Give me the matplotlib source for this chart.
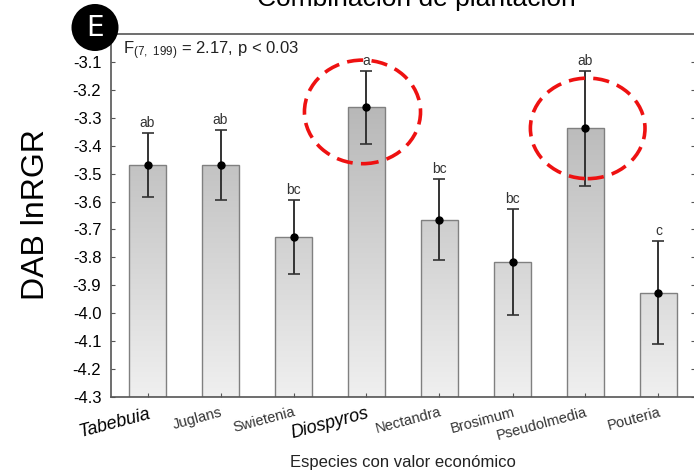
import numpy as np
import matplotlib
matplotlib.use('Agg')
import matplotlib.pyplot as plt
from matplotlib.patches import Ellipse, Circle

plt.rcParams['font.family'] = ['Liberation Sans', 'DejaVu Sans']
plt.rcParams['mathtext.default'] = 'regular'

# datos
especies = ['Tabebuia', 'Juglans', 'Swietenia', 'Diospyros', 'Nectandra',
            'Brosimum', 'Pseudolmedia', 'Pouteria']
medias = [-3.470, -3.468, -3.727, -3.263, -3.665, -3.815, -3.338, -3.926]
errores = [0.115, 0.125, 0.133, 0.132, 0.145, 0.190, 0.205, 0.185]
letras = ['ab', 'ab', 'bc', 'a', 'bc', 'bc', 'ab', 'c']
destacadas = ['Diospyros', 'Pseudolmedia']
cursivas = ['Tabebuia', 'Diospyros']

ymin, ymax = -4.3, -3.0

fig = plt.figure(figsize=(6.94, 4.73), dpi=100)
ax = fig.add_axes([111 / 694, 76 / 473, 584 / 694, 363 / 473])

x = np.arange(len(especies))
barras = ax.bar(x, [m - ymin for m in medias], bottom=ymin, width=0.5,
                color='none', edgecolor='#808080', linewidth=1.0, zorder=2)

# degradado gris (claro abajo, oscuro arriba)
g = np.linspace(0.94, 0.665, 256).reshape(-1, 1)
grad = np.dstack([g, g, g])
for b in barras:
    img = ax.imshow(grad, extent=[-0.5, 7.5, ymin, ymax], origin='lower',
                    aspect='auto', zorder=1, interpolation='bilinear')
    img.set_clip_path(b)

ax.errorbar(x, medias, yerr=errores, fmt='o', color='black', ms=5,
            ecolor='#333333', elinewidth=1.4, capsize=4, capthick=1.2, zorder=3)

for xi, m, e, l in zip(x, medias, errores, letras):
    ax.text(xi, m + e + 0.01, l, ha='center', va='bottom', fontsize=10,
            color='#333333', zorder=4)

# circulos rojos
centros = {'Diospyros': (-0.055, -0.016, 1.59, 0.371),
           'Pseudolmedia': (0.03, 0.0, 1.57, 0.36)}
for nombre in destacadas:
    i = especies.index(nombre)
    dx, dy, w, h = centros[nombre]
    ax.add_patch(Ellipse((i + dx, medias[i] + dy), w, h, fill=False,
                         edgecolor='#ee1111', linestyle=(0, (4.5, 2.3)),
                         linewidth=2.6, zorder=5, clip_on=False))

ax.set_xlim(-0.5, 7.5)
ax.set_ylim(ymin, ymax)
ticks = np.round(np.arange(-4.3, -3.05, 0.1), 1)
ax.set_yticks(ticks)
ax.set_yticklabels(['%.1f' % v for v in ticks], fontsize=12)
ax.set_xticks(x)
ax.set_xticklabels(especies)
for lab in ax.get_xticklabels():
    lab.set_rotation(15)
    lab.set_ha('right')
    lab.set_rotation_mode('anchor')
    if lab.get_text() in cursivas:
        lab.set_fontstyle('italic')
        lab.set_fontsize(13)
        lab.set_color('black')
    else:
        lab.set_fontsize(10.5)
        lab.set_color('#333333')
ax.tick_params(axis='both', direction='in', length=3, color='#555555',
               right=True)
ax.tick_params(axis='x', pad=6)
ax.tick_params(axis='y', pad=7)

for s in ax.spines.values():
    s.set_color('#555555')
    s.set_linewidth(1.2)

ax.text(0.02, 0.955, r'F$_{(7,\ 199)}$ = 2.17, p < 0.03', transform=ax.transAxes,
        fontsize=12, va='center', color='#222222')

fig.text(403 / 694, 1 - 462 / 473, 'Especies con valor económico', fontsize=12,
         ha='center', va='center', color='#222222')
fig.text(36 / 694, 1 - 215 / 473, 'DAB lnRGR', rotation=90, fontsize=23,
         ha='center', va='center')

# titulo cortado arriba
fig.text(416 / 694, 1 - 6 / 473, 'Combinación de plantación', fontsize=19,
         ha='center', va='baseline')

# etiqueta del panel
fig.add_artist(Circle((0.95, 4.73 - 0.275), 0.235, transform=fig.dpi_scale_trans,
                      facecolor='black', edgecolor='none', zorder=10))
fig.text(95 / 694, 1 - 28 / 473, 'E', color='white', fontsize=20,
         ha='center', va='center', zorder=11, family='DejaVu Sans Condensed')

fig.savefig('out.png', dpi=100)
